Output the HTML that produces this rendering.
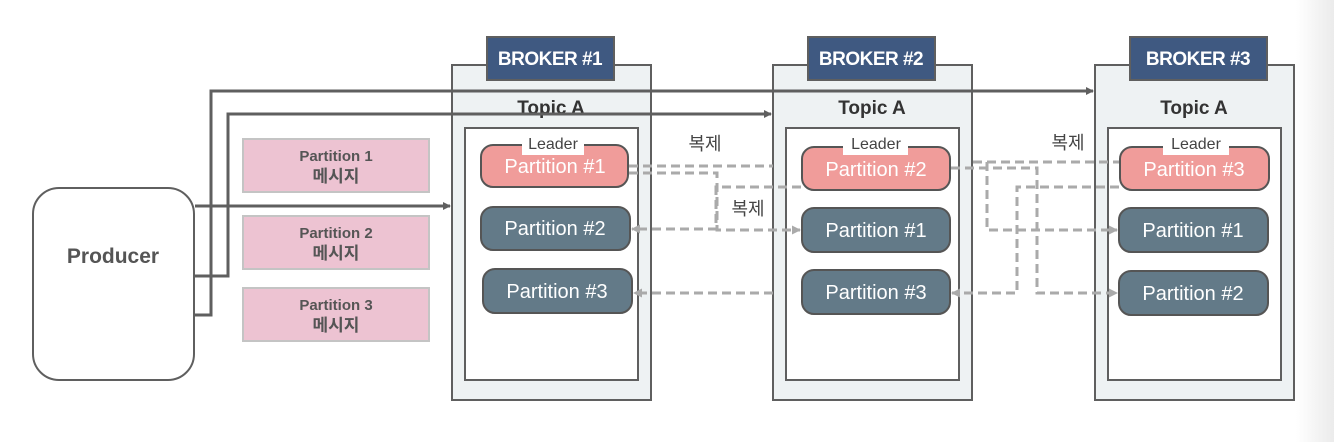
<!DOCTYPE html>
<html><head><meta charset="utf-8"><style>
html,body{margin:0;padding:0;background:#fff;}
svg{display:block;}
text{font-family:"Liberation Sans","Noto Sans CJK KR",sans-serif;}
</style></head><body>
<svg width="1334" height="442" viewBox="0 0 1334 442" xmlns="http://www.w3.org/2000/svg">
<defs>
<linearGradient id="edge" x1="0" x2="1"><stop offset="0" stop-color="#fff"/><stop offset="1" stop-color="#ebebeb"/></linearGradient>
<marker id="ah" markerWidth="8" markerHeight="8" refX="7" refY="4" orient="auto" markerUnits="userSpaceOnUse"><path d="M0,0 L8,4 L0,8 z" fill="#5f5f5f"/></marker>
<marker id="ahg" markerWidth="9" markerHeight="9" refX="8" refY="4.5" orient="auto" markerUnits="userSpaceOnUse"><path d="M0,0 L9,4.5 L0,9 z" fill="#aaaaaa"/></marker>
</defs>
<rect x="1296" y="0" width="38" height="442" fill="url(#edge)"/>

<rect x="33" y="188" width="161" height="192" rx="26" fill="#fff" stroke="#5f5f5f" stroke-width="2"/>
<text x="113" y="263" text-anchor="middle" font-size="21" font-weight="bold" fill="#555">Producer</text>

<g font-size="15" font-weight="bold" fill="#555" text-anchor="middle">
<rect x="243" y="139" width="186" height="53" fill="#edc3d2" stroke="#c4c4c4" stroke-width="2"/>
<text x="336" y="161">Partition 1</text><text x="336" y="182" font-size="17">메시지</text>
<rect x="243" y="216" width="186" height="53" fill="#edc3d2" stroke="#c4c4c4" stroke-width="2"/>
<text x="336" y="238">Partition 2</text><text x="336" y="259" font-size="17">메시지</text>
<rect x="243" y="288" width="186" height="53" fill="#edc3d2" stroke="#c4c4c4" stroke-width="2"/>
<text x="336" y="310">Partition 3</text><text x="336" y="331" font-size="17">메시지</text>
</g>

<g stroke="#5f5f5f" stroke-width="2">
<rect x="452" y="65" width="199" height="335" fill="#eef2f3"/>
<rect x="465" y="128" width="173" height="252" fill="#fff"/>
<rect x="773" y="65" width="199" height="335" fill="#eef2f3"/>
<rect x="786" y="128" width="173" height="252" fill="#fff"/>
<rect x="1095" y="65" width="199" height="335" fill="#eef2f3"/>
<rect x="1108" y="128" width="173" height="252" fill="#fff"/>
<rect x="487" y="37" width="127" height="43" fill="#3f5981"/>
<rect x="808" y="37" width="127" height="43" fill="#3f5981"/>
<rect x="1130" y="37" width="137" height="43" fill="#3f5981"/>
</g>
<g font-size="19" font-weight="bold" fill="#fff" text-anchor="middle" letter-spacing="-0.5">
<text x="550" y="65">BROKER #1</text>
<text x="871" y="65">BROKER #2</text>
<text x="1198" y="65">BROKER #3</text>
</g>
<g font-size="19" font-weight="bold" fill="#333" text-anchor="middle">
<text x="551" y="114">Topic A</text>
<text x="872" y="114">Topic A</text>
<text x="1194" y="114">Topic A</text>
</g>

<g stroke="#5f5f5f" stroke-width="3" fill="none">
<path d="M195,206 H450" marker-end="url(#ah)"/>
<path d="M195,276 H228 V114 H771" marker-end="url(#ah)"/>
<path d="M195,315 H211 V91 H1093" marker-end="url(#ah)"/>
</g>

<g stroke="#555" stroke-width="2">
<rect x="481" y="145" width="147" height="42" rx="12" fill="#f09c9a"/>
<rect x="481" y="207" width="149" height="43" rx="12" fill="#637a88"/>
<rect x="483" y="269" width="149" height="44" rx="12" fill="#637a88"/>
<rect x="802" y="147" width="148" height="43" rx="12" fill="#f09c9a"/>
<rect x="802" y="208" width="148" height="44" rx="12" fill="#637a88"/>
<rect x="802" y="270" width="148" height="44" rx="12" fill="#637a88"/>
<rect x="1120" y="147" width="149" height="43" rx="12" fill="#f09c9a"/>
<rect x="1119" y="208" width="149" height="44" rx="12" fill="#637a88"/>
<rect x="1119" y="271" width="149" height="44" rx="12" fill="#637a88"/>
</g>
<g fill="#fff" stroke="none">
<rect x="522" y="131" width="62" height="24"/>
<rect x="843" y="131" width="65" height="24"/>
<rect x="1163" y="131" width="66" height="24"/>
</g>
<g font-size="16" fill="#444" text-anchor="middle">
<text x="553" y="149">Leader</text>
<text x="876" y="149">Leader</text>
<text x="1196" y="149">Leader</text>
<text x="705" y="150" font-size="18">복제</text>
<text x="748" y="215" font-size="18">복제</text>
<text x="1068" y="149" font-size="18">복제</text>
</g>
<g font-size="20" fill="#fff" text-anchor="middle">
<text x="555" y="173">Partition #1</text>
<text x="555" y="235">Partition #2</text>
<text x="557" y="298">Partition #3</text>
<text x="876" y="176">Partition #2</text>
<text x="876" y="237">Partition #1</text>
<text x="876" y="299">Partition #3</text>
<text x="1194" y="176">Partition #3</text>
<text x="1193" y="237">Partition #1</text>
<text x="1193" y="300">Partition #2</text>
</g>

<g stroke="#aaaaaa" stroke-width="3" fill="none" stroke-dasharray="9,5">
<path d="M629,166 H773"/>
<path d="M629,173 H717 V230 H800" marker-end="url(#ahg)"/>
<path d="M801,187 H716 V229 H632" marker-end="url(#ahg)"/>
<path d="M773,293 H634" marker-end="url(#ahg)"/>
<path d="M951,168 H1037 V293 H1117" marker-end="url(#ahg)"/>
<path d="M973,162 H1119"/>
<path d="M973,162 H987 V230 H1117" marker-end="url(#ahg)"/>
<path d="M1119,187 H1017 V293 H952" marker-end="url(#ahg)"/>
</g>
</svg>
</body></html>
